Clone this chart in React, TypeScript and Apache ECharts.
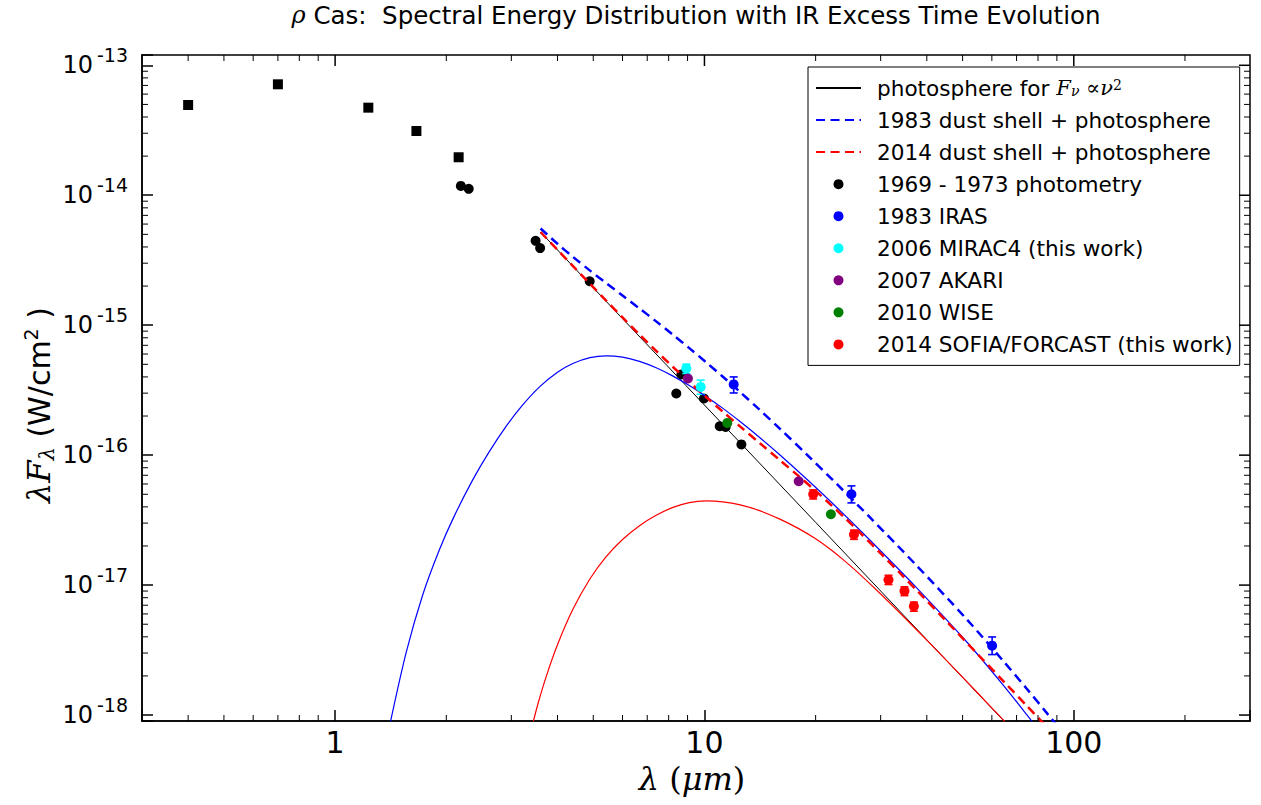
import React, { useEffect, useRef } from "react";
import * as echarts from "echarts";

const SANS = "DejaVu Sans";
const SERIF = "DejaVu Serif";

// ---- axes ----
const X_MIN = 0.3;
const X_MAX = 300;
const Y_MIN = 9e-19;
const Y_MAX = 1.2e-13;
const xTickValues = [1, 10, 100];
const xTickLabels = ["1", "10", "100"];
const yTickValues = [1e-18, 1e-17, 1e-16, 1e-15, 1e-14, 1e-13];
const yTickExponents = ["-18", "-17", "-16", "-15", "-14", "-13"];

// ---- legend names ----
const PHOTO = "photosphere";
const DASH83 = "1983 dust shell + photosphere";
const DASH14 = "2014 dust shell + photosphere";
const PHOT = "1969 - 1973 photometry";
const IRAS = "1983 IRAS";
const MIRAC = "2006 MIRAC4 (this work)";
const AKARI = "2007 AKARI";
const WISE = "2010 WISE";
const SOFIA = "2014 SOFIA/FORCAST (this work)";

// ---- observed data [wavelength um, lambda F_lambda W/cm^2] ----
const squares = [[0.40, 4.95e-14], [0.70, 7.14e-14], [1.23, 4.72e-14], [1.66, 3.12e-14], [2.16, 1.96e-14]];
const photometry = [
  [2.19, 1.18e-14], [2.30, 1.12e-14], [3.49, 4.46e-15], [3.59, 3.92e-15], [4.89, 2.18e-15],
  [8.39, 2.98e-16], [8.66, 4.18e-16], [9.97, 2.73e-16], [11.0, 1.67e-16], [11.41, 1.65e-16], [12.59, 1.21e-16],
];
const iras = [[12.0, 3.5e-16], [25.0, 5.0e-17], [60.1, 3.42e-18]];
const irasErr = [[12.0, 3.01e-16, 4.0e-16], [25.0, 4.29e-17, 5.8e-17], [60.1, 2.92e-18, 3.99e-18]];
const mirac = [[8.93, 4.65e-16], [9.77, 3.35e-16]];
const miracErr = [[8.93, 4.25e-16, 5.01e-16], [9.77, 2.94e-16, 3.78e-16]];
const akari = [[9.02, 3.89e-16], [18.0, 6.3e-17]];
const wise = [[11.53, 1.77e-16], [22.0, 3.51e-17]];
const sofia = [[19.7, 5.0e-17], [25.4, 2.45e-17], [31.5, 1.1e-17], [34.8, 9.0e-18], [36.9, 6.87e-18]];
const sofiaErr = [
  [19.7, 4.6e-17, 5.4e-17], [25.4, 2.25e-17, 2.65e-17], [31.5, 1.01e-17, 1.19e-17],
  [34.8, 8.3e-18, 9.7e-18], [36.9, 6.3e-18, 7.4e-18],
];

// ---- model curves ----
const photosphere = [[3.6, 5.21e-15], [5, 1.94e-15], [10, 2.43e-16], [20, 3.04e-17], [40, 3.8e-18], [70, 7.1e-19]];
const shell1983 = [
  [1.40, 7.91e-19], [1.557, 3.02e-18], [1.727, 8.43e-18], [1.917, 1.88e-17], [2.10, 3.38e-17], [2.36, 6.48e-17],
  [2.60, 1.037e-16], [2.906, 1.67e-16], [3.20, 2.385e-16], [3.577, 3.354e-16], [4.0, 4.345e-16], [4.40, 5.075e-16],
  [4.9, 5.63e-16], [5.42, 5.81e-16], [6.0, 5.675e-16], [6.67, 5.265e-16], [7.4, 4.7e-16], [8.22, 4.055e-16],
  [9.1, 3.43e-16], [10.12, 2.818e-16], [11.2, 2.3e-16], [12.46, 1.821e-16], [14.0, 1.392e-16], [15.99, 1.007e-16],
  [19.0, 6.46e-17], [22.78, 3.976e-17], [28.03, 2.225e-17], [37.5, 9.57e-18], [51.2, 3.68e-18], [64.4, 1.7e-18],
  [74.5, 1.01e-18], [85, 6.21e-19],
];
const shell2014 = [
  [3.40, 7.83e-19], [3.55, 1.249e-18], [3.73, 1.986e-18], [4.0, 3.474e-18], [4.40, 6.48e-18], [4.9, 1.119e-17],
  [5.42, 1.654e-17], [6.0, 2.241e-17], [6.67, 2.867e-17], [7.4, 3.447e-17], [8.22, 3.965e-17], [9.1, 4.312e-17],
  [10.1, 4.44e-17], [11.2, 4.37e-17], [12.5, 4.143e-17], [14.1, 3.74e-17], [16, 3.221e-17], [18, 2.72e-17],
  [20, 2.271e-17], [22, 1.869e-17], [24, 1.53e-17], [26, 1.252e-17], [30, 8.54e-18], [34, 6.02e-18],
  [38, 4.376e-18], [45, 2.669e-18], [55, 1.472e-18], [65, 8.94e-19], [72, 6.58e-19],
];
const total1983 = [
  [3.6, 5.55e-15], [4.0, 4.23e-15], [4.4, 3.36e-15], [4.9, 2.63e-15], [5.42, 2.108e-15], [6.0, 1.693e-15],
  [6.67, 1.346e-15], [7.4, 1.07e-15], [8.22, 8.43e-16], [9.1, 6.66e-16], [10.12, 5.16e-16], [11.2, 4.03e-16],
  [12.46, 3.08e-16], [14.0, 2.278e-16], [15.99, 1.602e-16], [19.0, 1.0e-16], [22.78, 6.03e-17], [28.03, 3.33e-17],
  [37.5, 1.418e-17], [51.2, 5.49e-18], [64.4, 2.61e-18], [74.5, 1.6e-18], [85, 1.017e-18], [95, 6.9e-19],
];
const total2014 = [
  [3.6, 5.21e-15], [4.0, 3.8e-15], [4.4, 2.86e-15], [4.9, 2.077e-15], [5.42, 1.544e-15], [6.0, 1.147e-15],
  [6.67, 8.48e-16], [7.4, 6.34e-16], [8.22, 4.77e-16], [9.1, 3.656e-16], [10.1, 2.803e-16], [11.2, 2.167e-16],
  [12.5, 1.658e-16], [14.1, 1.241e-16], [16, 9.155e-17], [18, 6.89e-17], [20, 5.31e-17], [22, 4.149e-17],
  [24, 3.288e-17], [26, 2.635e-17], [30, 1.754e-17], [34, 1.22e-17], [38, 8.81e-18], [45, 5.34e-18],
  [55, 2.93e-18], [65, 1.78e-18], [75, 1.159e-18], [85, 7.97e-19],
];

const isNear = (a: number, b: number) => Math.abs(Math.log10(a) - Math.log10(b)) < 1e-6;

function minorTicks(lo: number, hi: number) {
  const out: number[] = [];
  for (let e = Math.floor(Math.log10(lo)); e <= Math.ceil(Math.log10(hi)); e++) {
    for (let m = 2; m <= 9; m++) {
      const v = m * Math.pow(10, e);
      if (v > lo * 1.0001 && v < hi * 0.9999) out.push(v);
    }
  }
  return out;
}

function buildOption() {
  const black = "#000000";
  const xTickData = [
    ...minorTicks(X_MIN, X_MAX).map((v) => [v, 1e-15, 0]),
    ...xTickValues.map((v) => [v, 1e-15, 1]),
  ];
  const yTickData = [
    ...minorTicks(Y_MIN, Y_MAX).map((v) => [1, v, 0]),
    ...yTickValues.map((v) => [1, v, 1]),
  ];
  const tickStyle = (major: boolean) => ({ stroke: black, lineWidth: major ? 1.5 : 1 });
  const DASH = [9, 5.5];

  const errSeries = (name: string, data: number[][], color: string) => ({
    type: "custom",
    name,
    coordinateSystem: "cartesian2d",
    silent: true,
    data,
    z: 3,
    renderItem: (params: any, api: any) => {
      const x = api.value(0);
      const p1 = api.coord([x, api.value(1)]);
      const p2 = api.coord([x, api.value(2)]);
      const st = { stroke: color, lineWidth: 1.6 };
      return {
        type: "group",
        children: [
          { type: "line", shape: { x1: p1[0], y1: p1[1], x2: p2[0], y2: p2[1] }, style: st },
          { type: "line", shape: { x1: p1[0] - 4, y1: p1[1], x2: p1[0] + 4, y2: p1[1] }, style: st },
          { type: "line", shape: { x1: p2[0] - 4, y1: p2[1], x2: p2[0] + 4, y2: p2[1] }, style: st },
        ],
      };
    },
  });

  const scatter = (name: string, data: number[][], color: string, z = 4) => ({
    type: "scatter",
    name,
    data,
    symbol: "circle",
    symbolSize: 10,
    itemStyle: { color, opacity: 1 },
    silent: true,
    z,
  });

  const curve = (name: string, data: number[][], color: string, width: number, dashed: boolean, smooth: number) => ({
    type: "line",
    name,
    data,
    symbol: "none",
    showSymbol: false,
    smooth,
    clip: true,
    silent: true,
    z: 3,
    itemStyle: { color },
    lineStyle: { color, width, type: dashed ? DASH : "solid" },
  });

  return {
    animation: false,
    backgroundColor: "#ffffff",
    grid: { left: 142, top: 55, width: 1108, height: 666, show: true, borderColor: black, borderWidth: 1.5, backgroundColor: "transparent" },
    xAxis: {
      type: "log",
      logBase: 10,
      min: X_MIN,
      max: X_MAX,
      axisLine: { show: true, onZero: false, lineStyle: { color: black, width: 1.5 } },
      axisTick: { show: true, inside: true, length: 11, lineStyle: { color: black, width: 1.5 } },
      axisLabel: {
        color: black,
        fontFamily: SANS,
        fontSize: 30,
        margin: 6,
        formatter: (v: number) => {
          const i = xTickValues.findIndex((t) => isNear(t, v));
          return i >= 0 ? xTickLabels[i] : "";
        },
      },
      splitLine: { show: false },
    },
    yAxis: {
      type: "log",
      logBase: 10,
      min: Y_MIN,
      max: Y_MAX,
      axisLine: { show: true, onZero: false, lineStyle: { color: black, width: 1.5 } },
      axisTick: { show: true, inside: true, length: 11, lineStyle: { color: black, width: 1.5 } },
      axisLabel: {
        color: black,
        fontFamily: SANS,
        margin: 14,
        formatter: (v: number) => {
          const i = yTickValues.findIndex((t) => isNear(t, v));
          return i >= 0 ? `{b|10}{s|${yTickExponents[i]}}` : "";
        },
        rich: {
          b: { fontFamily: SANS, fontSize: 24, color: black, lineHeight: 40 },
          s: { fontFamily: SANS, fontSize: 19, color: black, lineHeight: 20, verticalAlign: "top", padding: [0, 0, 0, 4] },
        },
      },
      splitLine: { show: false },
    },
    legend: {
      orient: "vertical",
      left: 808,
      top: 67,
      itemWidth: 45,
      itemHeight: 10,
      itemGap: 10.05,
      padding: [10, 7, 10, 7],
      backgroundColor: "#ffffff",
      borderColor: black,
      borderWidth: 1,
      borderRadius: 0,
      selectedMode: false,
      textStyle: {
        fontFamily: SANS,
        fontSize: 21.6,
        color: black,
        lineHeight: 20,
        padding: [0, 0, 0, 11],
        rich: {
          i: { fontFamily: SERIF, fontStyle: "italic", fontSize: 21, lineHeight: 20 },
          sub: { fontFamily: SERIF, fontStyle: "italic", fontSize: 14, lineHeight: 12, verticalAlign: "bottom" },
          sup: { fontFamily: SERIF, fontSize: 14, lineHeight: 12, verticalAlign: "top" },
        },
      },
      formatter: (name: string) => (name === PHOTO ? "photosphere for {i|F}{sub|ν}{i| ∝ν}{sup|2}" : name),
      data: [
        { name: PHOTO, itemStyle: { opacity: 0 } },
        { name: DASH83, itemStyle: { opacity: 0 } },
        { name: DASH14, itemStyle: { opacity: 0 } },
        { name: PHOT },
        { name: IRAS },
        { name: MIRAC },
        { name: AKARI },
        { name: WISE },
        { name: SOFIA },
      ],
    },
    graphic: [
      {
        type: "text",
        x: 696,
        y: 15,
        style: {
          text: "{m|ρ} Cas:  Spectral Energy Distribution with IR Excess Time Evolution",
          fontFamily: SANS,
          fontSize: 24.5,
          fill: black,
          align: "center",
          verticalAlign: "middle",
          textAlign: "center",
          textVerticalAlign: "middle",
          rich: { m: { fontFamily: SERIF, fontStyle: "italic", fontSize: 24 } },
        },
      },
      {
        type: "text",
        x: 692,
        y: 779,
        style: {
          text: "{m|λ}{r| (}{m|μm}{r|)}",
          fontFamily: SERIF,
          fontSize: 32,
          fill: black,
          align: "center",
          verticalAlign: "middle",
          textAlign: "center",
          textVerticalAlign: "middle",
          rich: {
            m: { fontFamily: SERIF, fontStyle: "italic", fontSize: 32 },
            r: { fontFamily: SERIF, fontSize: 32 },
          },
        },
      },
      {
        type: "text",
        x: 39,
        y: 405,
        rotation: Math.PI / 2,
        style: {
          text: "{m|λF}{sub|λ}{t| (W/cm}{sup|2}{t| )}",
          fontFamily: SANS,
          fontSize: 30,
          fill: black,
          align: "center",
          verticalAlign: "middle",
          textAlign: "center",
          textVerticalAlign: "middle",
          rich: {
            m: { fontFamily: SERIF, fontStyle: "italic", fontSize: 32, lineHeight: 36 },
            sub: { fontFamily: SERIF, fontStyle: "italic", fontSize: 21, lineHeight: 16, verticalAlign: "bottom" },
            t: { fontFamily: SANS, fontSize: 30, lineHeight: 36 },
            sup: { fontFamily: SANS, fontSize: 19, lineHeight: 18, verticalAlign: "top" },
          },
        },
      },
    ],
    series: [
      // tick marks on all four sides (minor) and top/right (major)
      {
        type: "custom",
        name: "xticks",
        coordinateSystem: "cartesian2d",
        silent: true,
        z: 10,
        data: xTickData,
        renderItem: (params: any, api: any) => {
          const cs = params.coordSys;
          const major = api.value(2) === 1;
          const x = api.coord([api.value(0), 1e-15])[0];
          const bottom = cs.y + cs.height;
          const kids: any[] = [
            { type: "line", shape: { x1: x, y1: cs.y, x2: x, y2: cs.y + (major ? 11 : 6) }, style: tickStyle(major) },
          ];
          if (!major) kids.push({ type: "line", shape: { x1: x, y1: bottom, x2: x, y2: bottom - 6 }, style: tickStyle(false) });
          return { type: "group", children: kids };
        },
      },
      {
        type: "custom",
        name: "yticks",
        coordinateSystem: "cartesian2d",
        silent: true,
        z: 10,
        data: yTickData,
        renderItem: (params: any, api: any) => {
          const cs = params.coordSys;
          const major = api.value(2) === 1;
          const y = api.coord([1, api.value(1)])[1];
          const right = cs.x + cs.width;
          const kids: any[] = [
            { type: "line", shape: { x1: right, y1: y, x2: right - (major ? 11 : 6), y2: y }, style: tickStyle(major) },
          ];
          if (!major) kids.push({ type: "line", shape: { x1: cs.x, y1: y, x2: cs.x + 6, y2: y }, style: tickStyle(false) });
          return { type: "group", children: kids };
        },
      },
      {
        type: "scatter",
        name: "early photometry",
        data: squares,
        symbol: "rect",
        symbolSize: 10,
        itemStyle: { color: black, opacity: 1 },
        silent: true,
        z: 4,
      },
      scatter(PHOT, photometry, black, 2),
      curve(PHOTO, photosphere, black, 1, false, 0),
      curve("1983 dust shell", shell1983, "#0000ff", 1.2, false, 0.3),
      curve("2014 dust shell", shell2014, "#ff0000", 1.2, false, 0.3),
      curve(DASH83, total1983, "#0000ff", 2.5, true, 0.3),
      curve(DASH14, total2014, "#ff0000", 2.5, true, 0.3),
      errSeries("IRAS err", irasErr, "#0000ff"),
      scatter(IRAS, iras, "#0000ff"),
      errSeries("MIRAC4 err", miracErr, "#00ffff"),
      scatter(MIRAC, mirac, "#00ffff"),
      scatter(AKARI, akari, "#800080"),
      scatter(WISE, wise, "#008000"),
      errSeries("SOFIA err", sofiaErr, "#ff0000"),
      scatter(SOFIA, sofia, "#ff0000"),
    ],
  };
}

export default function App() {
  const ref = useRef<HTMLDivElement>(null);
  useEffect(() => {
    if (!ref.current) return;
    const chart = echarts.init(ref.current, null, { renderer: "svg" });
    chart.setOption(buildOption() as any);
    return () => chart.dispose();
  }, []);
  return (
    <div
      ref={ref}
      style={{ position: "fixed", left: 0, top: 0, width: 1261, height: 805, background: "#ffffff" }}
    />
  );
}
